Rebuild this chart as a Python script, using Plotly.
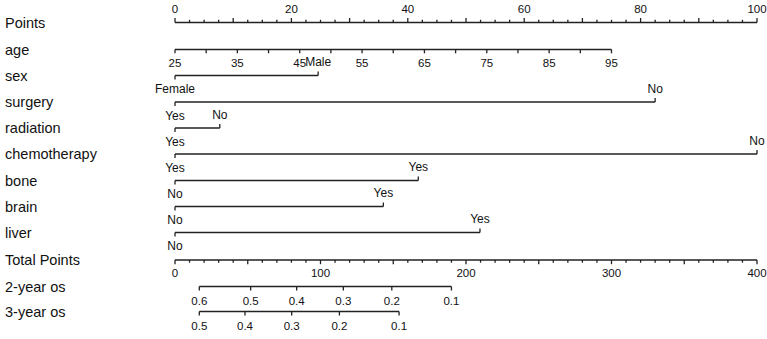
import numpy as np
import plotly.graph_objects as go

# ---------------- data ----------------
row_names = ["Points", "age", "sex", "surgery", "radiation", "chemotherapy",
             "bone", "brain", "liver", "Total Points", "2-year os", "3-year os"]

points_max = 100
points_labels = [0, 20, 40, 60, 80, 100]

age_labels = [25, 35, 45, 55, 65, 75, 85, 95]
age_minor = [30, 40, 50, 60, 70, 80, 90]
age_span = [25, 95]          # age values at ends of the age axis
age_points_span = [0, 75.0]  # points at those ends

sex_levels = ["Female", "Male"]
sex_points = [0, 24.6]
surgery_levels = ["Yes", "No"]
surgery_points = [0, 82.5]
radiation_levels = ["Yes", "No"]
radiation_points = [0, 7.7]
chemotherapy_levels = ["Yes", "No"]
chemotherapy_points = [0, 100]
bone_levels = ["No", "Yes"]
bone_points = [0, 41.8]
brain_levels = ["No", "Yes"]
brain_points = [0, 35.8]
liver_levels = ["No", "Yes"]
liver_points = [0, 52.4]

total_max = 400
total_labels = [0, 100, 200, 300, 400]

os2_labels = ["0.6", "0.5", "0.4", "0.3", "0.2", "0.1"]
os2_total = [16.7, 52.0, 83.6, 115.7, 149.0, 190.0]
os3_labels = ["0.5", "0.4", "0.3", "0.2", "0.1"]
os3_total = [16.7, 48.1, 80.2, 113.0, 154.0]

# ---------------- layout constants ----------------
W, H = 767, 339
PX0 = 175            # pixel of 0 points
PX_PER = 582 / 100   # pixels per point
row_y = [22.5, 49.5, 75.5, 102, 128, 154, 180.5, 206.5, 232.5, 260, 286.5, 311.5]
BELOW = 14.5
ABOVE = -12.5
LINE_COLOR = "#222222"
TEXT_COLOR = "#111111"
FONT = "Liberation Sans, Arial, sans-serif"

seg_x, seg_y = [], []
num_txt = dict(x=[], y=[], t=[])
cat_txt = dict(x=[], y=[], t=[])


def seg(x0, y0, x1, y1):
    seg_x.extend([x0, x1, None])
    seg_y.extend([y0, y1, None])


def tick(x, y, length):
    seg(x, y, x, y + length)


def put(store, x, y, t):
    store["x"].append(x)
    store["y"].append(y)
    store["t"].append(t)


# Points axis (labels above, ticks up)
y = row_y[0]
seg(0, y, points_max, y)
for v in np.arange(0, points_max + 0.01, 2.5):
    tick(v, y, -4.5 if v % 10 == 0 else -2.7)
for v in points_labels:
    put(num_txt, v, y + ABOVE, str(v))

# age axis (labels below, ticks down)
y = row_y[1]
def age_to_pts(a):
    return np.interp(a, age_span, age_points_span)
seg(age_to_pts(age_span[0]), y, age_to_pts(age_span[1]), y)
for a in sorted(age_labels + age_minor):
    tick(age_to_pts(a), y, 3.8)
for a in age_labels:
    put(num_txt, age_to_pts(a), y + BELOW, str(a))

# categorical variables: first level below, second level above
cats = [(sex_levels, sex_points), (surgery_levels, surgery_points),
        (radiation_levels, radiation_points), (chemotherapy_levels, chemotherapy_points),
        (bone_levels, bone_points), (brain_levels, brain_points),
        (liver_levels, liver_points)]
for i, (levels, pts) in enumerate(cats):
    y = row_y[2 + i]
    seg(min(pts), y, max(pts), y)
    tick(pts[0], y, 4)
    put(cat_txt, pts[0], y + BELOW, levels[0])
    tick(pts[1], y, -4)
    put(cat_txt, pts[1], y + ABOVE, levels[1])

# Total points axis
scale = points_max / total_max
y = row_y[9]
seg(0, y, total_max * scale, y)
for v in range(0, total_max + 1, 10):
    tick(v * scale, y, 4.2 if v % 50 == 0 else 2.7)
for v in total_labels:
    put(num_txt, v * scale, y + BELOW, str(v))

# survival axes
for r, labs, tots in [(10, os2_labels, os2_total), (11, os3_labels, os3_total)]:
    y = row_y[r]
    xs = [t * scale for t in tots]
    seg(min(xs), y, max(xs), y)
    for xv, lab in zip(xs, labs):
        tick(xv, y, 4)
        put(num_txt, xv, y + BELOW + 1, lab)

x_left = -PX0 / PX_PER
x_right = (W - PX0) / PX_PER
label_x = x_left + 5 / PX_PER

fig = go.Figure()
fig.add_trace(go.Scatter(x=seg_x, y=seg_y, mode="lines",
                         line=dict(color=LINE_COLOR, width=1.3),
                         hoverinfo="skip", showlegend=False))
fig.add_trace(go.Scatter(x=num_txt["x"], y=num_txt["y"], text=num_txt["t"],
                         mode="text", textposition="middle center",
                         textfont=dict(family=FONT, size=11.5, color=TEXT_COLOR),
                         hoverinfo="skip", showlegend=False, cliponaxis=False))
fig.add_trace(go.Scatter(x=cat_txt["x"], y=cat_txt["y"], text=cat_txt["t"],
                         mode="text", textposition="middle center",
                         textfont=dict(family=FONT, size=12, color=TEXT_COLOR),
                         hoverinfo="skip", showlegend=False, cliponaxis=False))
fig.add_trace(go.Scatter(x=[label_x] * len(row_names), y=[ry + 1.5 for ry in row_y],
                         text=row_names, mode="text", textposition="middle right",
                         textfont=dict(family=FONT, size=14.5, color=TEXT_COLOR),
                         hoverinfo="skip", showlegend=False, cliponaxis=False))

fig.update_layout(
    width=W, height=H,
    margin=dict(l=0, r=0, t=0, b=0),
    paper_bgcolor="white", plot_bgcolor="white",
    xaxis=dict(range=[x_left, x_right], visible=False, fixedrange=True),
    yaxis=dict(range=[H, 0], visible=False, fixedrange=True),
)
fig.write_html(
    "out.html",
    config={"displayModeBar": False},
    post_script="document.body.style.margin='0';document.body.style.overflow='hidden';",
)
